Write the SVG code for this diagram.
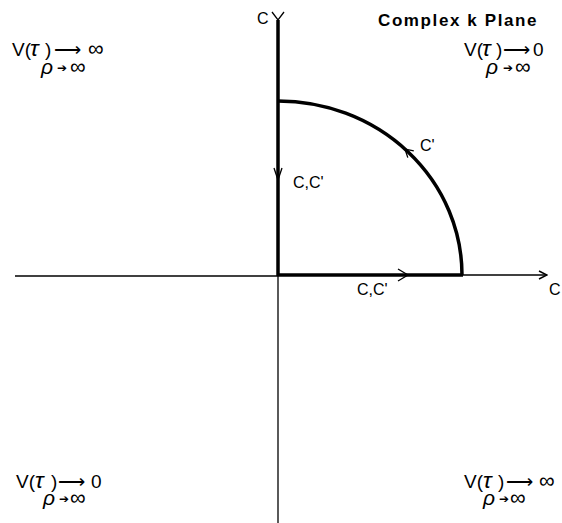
<svg xmlns="http://www.w3.org/2000/svg" width="562" height="523" viewBox="0 0 562 523">
<defs>
<marker id="ah" viewBox="0 0 10 10" refX="9" refY="5" markerWidth="10" markerHeight="10" markerUnits="userSpaceOnUse" orient="auto">
<path d="M1,1 L9,5 L1,9" fill="none" stroke="#000" stroke-width="1.5"/>
</marker>
</defs>
<style>
text{font-family:"Liberation Sans",Arial,sans-serif;fill:#000}
.lbl{font-size:16px}
.big{font-size:19px}
.it{font-style:italic;font-size:23px}
.rho{font-style:italic;font-size:21px}
.sm{font-size:12px;font-family:"DejaVu Sans",sans-serif}
.inf{font-size:22px}
.thin{stroke:#000;stroke-width:1.3;fill:none}
.thick{stroke:#000;stroke-width:3.5;fill:none}
</style>
<rect width="562" height="523" fill="#fff"/>
<g id="connectors">
<line class="thin" x1="278" y1="275" x2="278" y2="523"/>
<line class="thin" x1="15" y1="276" x2="278" y2="276"/>
<line class="thin" x1="462" y1="275" x2="547" y2="275" marker-end="url(#ah)"/>
<path class="thin" d="M272,12 L278,20 L284,12"/>
<line class="thick" x1="278" y1="20" x2="278" y2="276"/>
<line class="thick" x1="278" y1="275" x2="463" y2="275"/>
<path class="thick" d="M278,101 A184,174 0 0 1 462,275"/>
<path class="thin" d="M274,168 L278,180 L282,168"/>
<path class="thin" d="M398,269 L408,275 L398,281"/>
<path class="thin" d="M407.8,157.6 L405,149 L413.8,150.9"/>
</g>
<g id="axis-labels">
<text class="lbl" x="257" y="24">C</text>
<text class="lbl" x="549" y="295">C</text>
<text x="378" y="26" style="font-size:17px;font-weight:bold;letter-spacing:1.6px">Complex k Plane</text>
</g>
<g id="contour-labels">
<text class="lbl" x="293" y="188">C,C'</text>
<text class="lbl" x="420" y="151">C'</text>
<text class="lbl" x="357" y="295">C,C'</text>
</g>
<g id="q-top-left">
<text class="big" y="56"><tspan x="12">V(</tspan><tspan class="it" x="30">τ</tspan><tspan x="45">)</tspan><tspan x="54">⟶</tspan><tspan class="inf" x="88">∞</tspan></text>
<text class="big" y="74"><tspan class="rho" x="41">ρ</tspan><tspan class="sm" x="57" dy="-2">➔</tspan><tspan class="inf" x="70" dy="2">∞</tspan></text>
</g>
<g id="q-top-right">
<text class="big" y="56"><tspan x="464">V(</tspan><tspan class="it" x="482">τ</tspan><tspan x="496">)</tspan><tspan x="503">⟶</tspan><tspan x="533">0</tspan></text>
<text class="big" y="74"><tspan class="rho" x="486">ρ</tspan><tspan class="sm" x="503" dy="-2">➔</tspan><tspan class="inf" x="515" dy="2">∞</tspan></text>
</g>
<g id="q-bottom-left">
<text class="big" y="488"><tspan x="16">V(</tspan><tspan class="it" x="35">τ</tspan><tspan x="51">)</tspan><tspan x="58">⟶</tspan><tspan x="91">0</tspan></text>
<text class="big" y="505"><tspan class="rho" x="43">ρ</tspan><tspan class="sm" x="59" dy="-2">➔</tspan><tspan class="inf" x="70" dy="2">∞</tspan></text>
</g>
<g id="q-bottom-right">
<text class="big" y="488"><tspan x="464">V(</tspan><tspan class="it" x="483">τ</tspan><tspan x="498">)</tspan><tspan x="506">⟶</tspan><tspan class="inf" x="539">∞</tspan></text>
<text class="big" y="505"><tspan class="rho" x="483">ρ</tspan><tspan class="sm" x="499" dy="-2">➔</tspan><tspan class="inf" x="510" dy="2">∞</tspan></text>
</g>
</svg>
